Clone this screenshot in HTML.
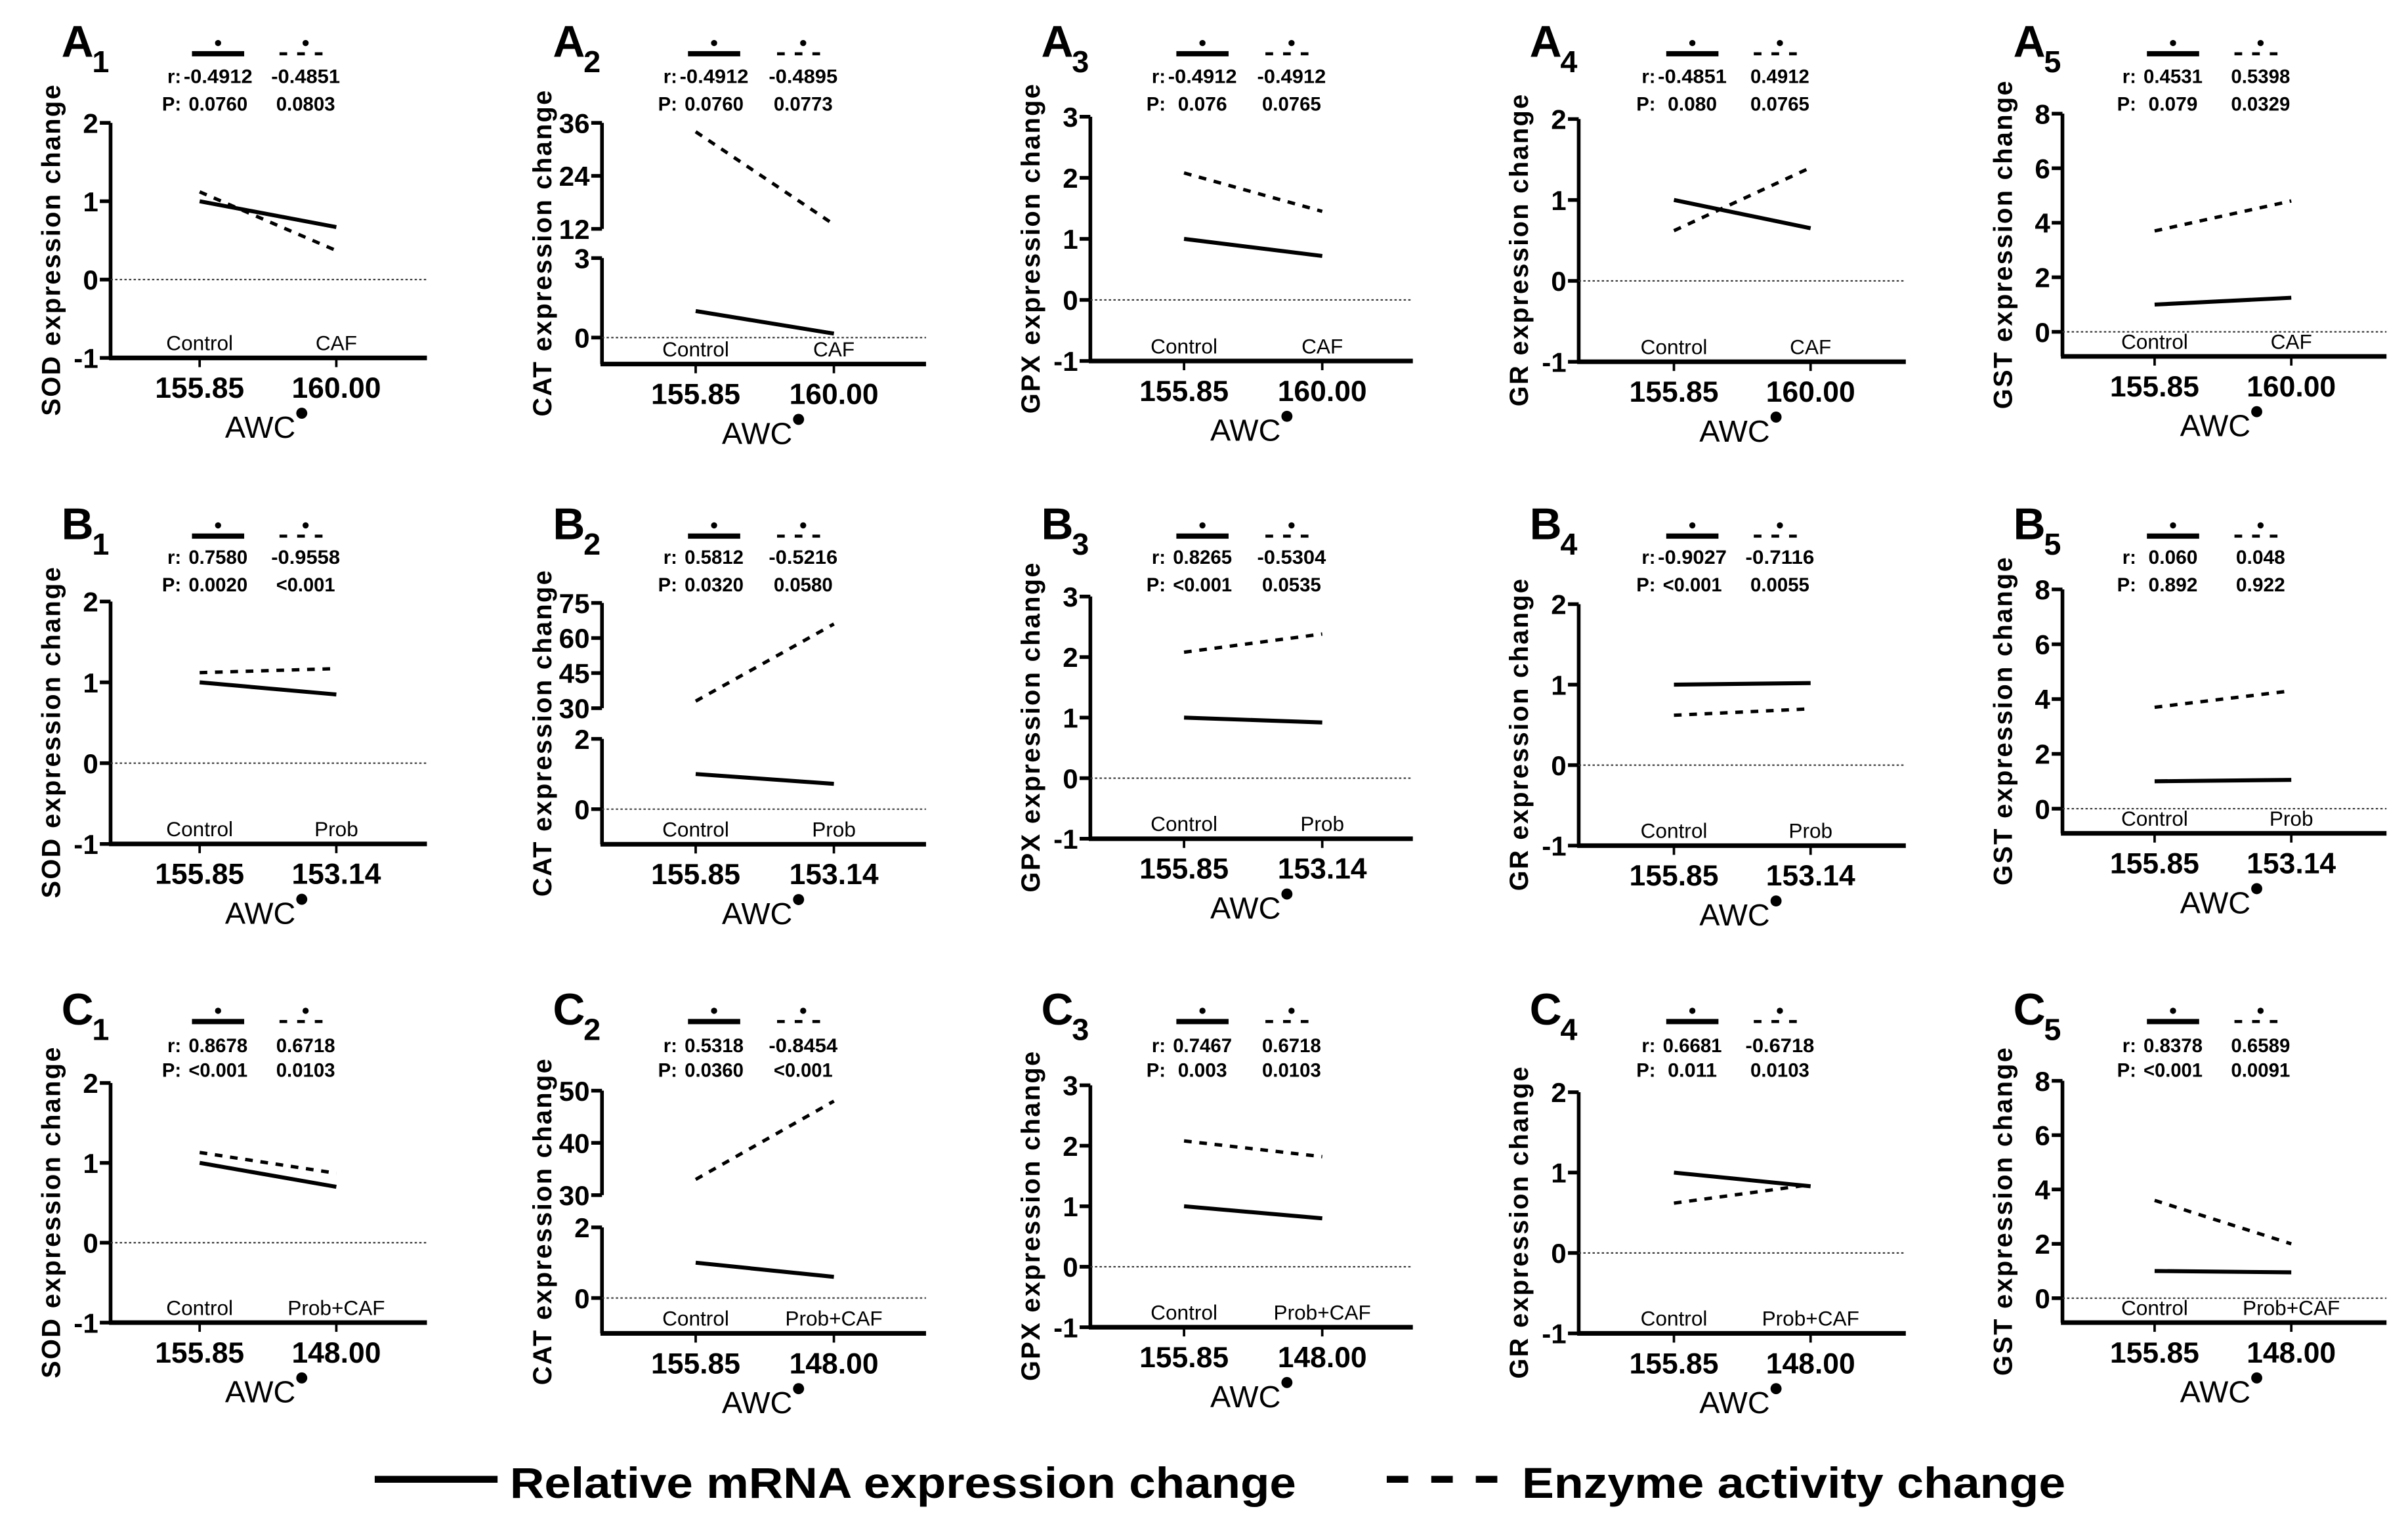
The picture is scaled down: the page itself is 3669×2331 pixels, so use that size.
<!DOCTYPE html>
<html><head><meta charset="utf-8"><style>
html,body{margin:0;padding:0;background:#fff;}
svg{display:block;}
text{font-family:"Liberation Sans",Arial,sans-serif;fill:#000;}
</style></head><body>
<svg id="fig" xmlns="http://www.w3.org/2000/svg" width="3669" height="2331" viewBox="0 0 1568 996" preserveAspectRatio="none"></svg>
<script>
// ---------- data ----------
const panelLetters = ["A","A","A","A","A","B","B","B","B","B","C","C","C","C","C"];
const panelNums = ["1","2","3","4","5","1","2","3","4","5","1","2","3","4","5"];
const yTitles = ["SOD expression change","CAT expression change","GPX expression change","GR expression change","GST expression change"];
const rowTreat = ["CAF","Prob","Prob+CAF"];
const rowAwc = ["160.00","153.14","148.00"];
const ctrlAwc = "155.85";
const solidVals = [[1,0.67],[1,0.15],[1,0.72],[1,0.65],[1,1.25],
                   [1,0.85],[1,0.72],[1,0.92],[1,1.02],[1,1.05],
                   [1,0.70],[1,0.60],[1,0.80],[1,0.83],[1,0.95]];
const dashedVals = [[1.12,0.37],[34,13],[2.08,1.45],[0.62,1.40],[3.7,4.8],
                    [1.12,1.17],[33,66],[2.08,2.38],[0.62,0.70],[3.7,4.3],
                    [1.13,0.87],[33,48],[2.08,1.82],[0.62,0.85],[3.6,2.0]];
const rSolid = ["-0.4912","-0.4912","-0.4912","-0.4851","0.4531",
                "0.7580","0.5812","0.8265","-0.9027","0.060",
                "0.8678","0.5318","0.7467","0.6681","0.8378"];
const rDashed = ["-0.4851","-0.4895","-0.4912","0.4912","0.5398",
                 "-0.9558","-0.5216","-0.5304","-0.7116","0.048",
                 "0.6718","-0.8454","0.6718","-0.6718","0.6589"];
const pSolid = ["0.0760","0.0760","0.076","0.080","0.079",
                "0.0020","0.0320","<0.001","<0.001","0.892",
                "<0.001","0.0360","0.003","0.011","<0.001"];
const pDashed = ["0.0803","0.0773","0.0765","0.0765","0.0329",
                 "<0.001","0.0580","0.0535","0.0055","0.922",
                 "0.0103","<0.001","0.0103","0.0103","0.0091"];
const lowTicks = [[-1,0,1,2],[0,3],[-1,0,1,2,3],[-1,0,1,2],[0,2,4,6,8],
                  [-1,0,1,2],[0,2],[-1,0,1,2,3],[-1,0,1,2],[0,2,4,6,8],
                  [-1,0,1,2],[0,2],[-1,0,1,2,3],[-1,0,1,2],[0,2,4,6,8]];
const highTicks = [null,[12,24,36],null,null,null,
                   null,[30,45,60,75],null,null,null,
                   null,[30,40,50],null,null,null];
const lowDomain = [[-1,2],[-1,3],[-1,3],[-1,2],[-0.9,8],
                   [-1,2],[-1,2],[-1,3],[-1,2],[-0.9,8],
                   [-1,2],[-1,2],[-1,3],[-1,2],[-0.9,8]];
const highDomain = [null,[12,36],null,null,null,
                    null,[30,75],null,null,null,
                    null,[30,50],null,null,null];

// ---------- layout (pixel geometry, not data) ----------
const colAxisX = [72,392,710,1028,1343];
const colX1 = [130,453,771,1090,1403];
const colX2 = [219,543,861,1179,1492];
const colEnd = [278,603,920,1241,1554];
const lowRange = [[233,80],[237,168],[235,76],[235.5,77.5],[232,74],
                  [549.4,391.6],[549.6,481],[546,388.3],[550.5,393.3],[542.5,383.7],
                  [861,705],[868,799],[864,706.5],[868,711],[861,703.6]];
const highRange = [null,[149,80],null,null,null,
                   null,[461,392.5],null,null,null,
                   null,[778,710],null,null,null];
const headY = [[35,54,72],[349,367,385],[665,685,701]];

const NS="http://www.w3.org/2000/svg";
const svg=document.getElementById('fig');
function el(tag,attrs,parent){const e=document.createElementNS(NS,tag);for(const k in attrs)e.setAttribute(k,attrs[k]);(parent||svg).appendChild(e);return e;}
function txt(s,attrs,parent){const e=el('text',attrs,parent);e.textContent=s;return e;}

for(let i=0;i<15;i++){
  const row=Math.floor(i/5), col=i%5;
  const g=el('g',{});
  
  
  const ax=colAxisX[col], x1=colX1[col], x2=colX2[col], xe=colEnd[col];
  const [yb,yt]=lowRange[i];
  const [d0,d1]=lowDomain[i];
  function ylow(v){return yb+(v-d0)/(d1-d0)*(yt-yb);}
  function yhigh(v){const [hb,ht]=highRange[i];const [h0,h1]=highDomain[i];return hb+(v-h0)/(h1-h0)*(ht-hb);}
  const broken=!!highDomain[i];
  function yv(v){ if(broken && v>=highDomain[i][0]-3) return yhigh(v); return ylow(v);}
  function xv(k){return k===0?x1:x2;}

  const lab=txt(panelLetters[i],{x:ax-32,y:headY[row][0]+2,'font-size':29,'font-weight':'bold'},g);
  
  
  txt(panelNums[i],{x:ax-12,y:headY[row][0]+12,'font-size':20,'font-weight':'bold'},g);

  const midY=(broken?(highRange[i][1]+yb):(yt+yb))/2+6;
  const yt1=txt(yTitles[col],{x:0,y:0,'font-size':17,'font-weight':'bold','text-anchor':'middle','letter-spacing':'1',transform:`translate(${ax-33},${midY}) rotate(-90)`},g);
  
  

  const ya=el('g',{},g);
  
  
  if(broken){
    el('line',{x1:ax,y1:yb,x2:ax,y2:ylow(d1),stroke:'#000','stroke-width':2.4},ya);
    el('line',{x1:ax,y1:yhigh(highDomain[i][0]),x2:ax,y2:yhigh(highDomain[i][1]),stroke:'#000','stroke-width':2.4},ya);
    highTicks[i].forEach(t=>{const y=yhigh(t);el('line',{x1:ax-7,y1:y,x2:ax,y2:y,stroke:'#000','stroke-width':2.4},ya);txt(String(t),{x:ax-8,y:y+6.5,'font-size':18,'font-weight':'bold','text-anchor':'end'},ya);});
  } else {
    el('line',{x1:ax,y1:yb,x2:ax,y2:yt,stroke:'#000','stroke-width':2.4},ya);
  }
  lowTicks[i].forEach(t=>{const y=ylow(t);el('line',{x1:ax-7,y1:y,x2:ax,y2:y,stroke:'#000','stroke-width':2.4},ya);txt(String(t),{x:ax-8,y:y+6.5,'font-size':18,'font-weight':'bold','text-anchor':'end'},ya);});

  const xa=el('g',{},g);
  
  
  el('line',{x1:ax-1,y1:yb,x2:xe,y2:yb,stroke:'#000','stroke-width':3},xa);
  [0,1].forEach(k=>{el('line',{x1:xv(k),y1:yb,x2:xv(k),y2:yb+6,stroke:'#000','stroke-width':1.6},xa);});
  txt(ctrlAwc,{x:x1,y:yb+26,'font-size':19,'font-weight':'bold','text-anchor':'middle'},xa);
  txt(rowAwc[row],{x:x2,y:yb+26,'font-size':19,'font-weight':'bold','text-anchor':'middle'},xa);
  const awc=txt('AWC',{x:(x1+x2)/2-5,y:yb+52,'font-size':20,'text-anchor':'middle'},xa);
  
  
  el('circle',{cx:(x1+x2)/2+22,cy:yb+36,r:3.6,fill:'#000'},xa);
  const cats=['Control',rowTreat[row]];
  cats.forEach((c,k)=>{txt(c,{x:xv(k),y:yb-5,'font-size':13.5,'text-anchor':'middle'},xa);});

  const zl=el('line',{x1:ax,y1:ylow(0),x2:xe,y2:ylow(0),stroke:'#333','stroke-width':0.9,'stroke-dasharray':'1.5,1.5'},g);
  
  

  const sl=el('line',{x1:xv(0),y1:yv(solidVals[i][0]),x2:xv(1),y2:yv(solidVals[i][1]),stroke:'#000','stroke-width':2.6},g);
  
  
  const dl=el('line',{x1:xv(0),y1:yv(dashedVals[i][0]),x2:xv(1),y2:yv(dashedVals[i][1]),stroke:'#000','stroke-width':2.2,'stroke-dasharray':'5,5'},g);
  
  

  const [ly,ry,py]=headY[row];
  const c1=x1+12, c2=x2-20;
  const hd=el('g',{},g);
  
  
  el('line',{x1:c1-17,y1:ly,x2:c1+17,y2:ly,stroke:'#000','stroke-width':3.4},hd);
  el('circle',{cx:c1,cy:ly-7,r:2,fill:'#000'},hd);
  el('line',{x1:c2-17,y1:ly,x2:c2+17,y2:ly,stroke:'#000','stroke-width':2,'stroke-dasharray':'5,6.5'},hd);
  el('circle',{cx:c2,cy:ly-7,r:2,fill:'#000'},hd);
  txt('r:',{x:c1-24,y:ry,'font-size':12.5,'font-weight':'bold','text-anchor':'end'},hd);
  txt('P:',{x:c1-24,y:py,'font-size':12.5,'font-weight':'bold','text-anchor':'end'},hd);
  [[rSolid[i],c1,ry],[rDashed[i],c2,ry],[pSolid[i],c1,py],[pDashed[i],c2,py]].forEach(([s,cx,y])=>{
    txt(s,{x:cx,y:y,'font-size':12.5,'font-weight':'bold','text-anchor':'middle',textLength:s.length*6.4,lengthAdjust:'spacingAndGlyphs'},hd);
  });
}

const lg=el('g',{});


const le1=el('g',{},lg);


el('line',{x1:244,y1:963,x2:324,y2:963,stroke:'#000','stroke-width':4.5},le1);
txt('Relative mRNA expression change',{x:332,y:975,'font-size':28,'font-weight':'bold',textLength:512,lengthAdjust:'spacingAndGlyphs'},le1);
const le2=el('g',{},lg);


el('line',{x1:903,y1:963,x2:975,y2:963,stroke:'#000','stroke-width':4.5,'stroke-dasharray':'14,15'},le2);
txt('Enzyme activity change',{x:991,y:975,'font-size':28,'font-weight':'bold',textLength:354,lengthAdjust:'spacingAndGlyphs'},le2);
</script>
</body></html>
